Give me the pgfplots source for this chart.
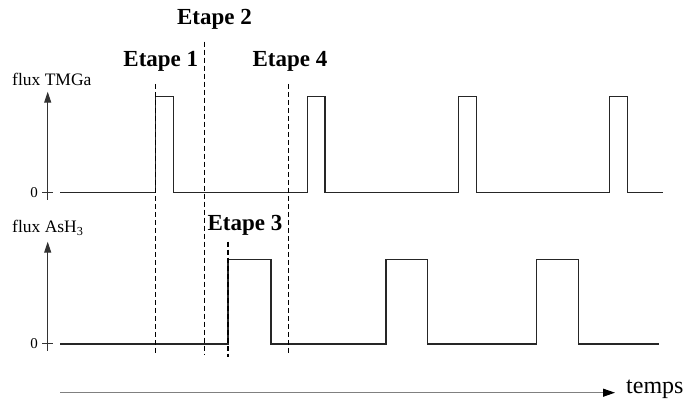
\documentclass[border=0pt]{standalone}
\usepackage{pgfplots}
\pgfplotsset{compat=1.18}
\usepackage{fontspec}
\setmainfont{Liberation Serif}
\usetikzlibrary{arrows.meta}

\newcommand{\lbl}{\fontsize{23bp}{25bp}\selectfont\bfseries}
\newcommand{\ylbl}{\fontsize{17.5bp}{19bp}\selectfont}

\begin{document}
\begin{tikzpicture}
\begin{axis}[
  width=687bp, height=403bp, scale only axis,
  xmin=0, xmax=687, ymin=0, ymax=403,
  hide axis, clip=false,
  every axis plot/.append style={no markers, line width=1.5bp, black!85},
]
\path (axis cs:0,0) rectangle (axis cs:687,403);

% flux TMGa
\addplot[const plot] coordinates {
  (60,210.5) (155.7,306.3) (173.7,210.5) (307.3,306.3) (325,210.5)
  (458.3,306.3) (476.3,210.5) (609.7,306.3) (627.7,210.5) (663,210.5)};
% flux AsH3
\addplot[const plot] coordinates {
  (60,59) (228,143.3) (271,59) (386,143.3) (427.7,59)
  (536.7,143.3) (578.7,59) (659,59)};

% step markers
\addplot[line width=1.4bp, black, dash pattern=on 5bp off 3bp] coordinates {(155.7,319) (155.7,49)};
\addplot[line width=1.4bp, black, dash pattern=on 5bp off 3bp] coordinates {(204.3,361.3) (204.3,48)};
\addplot[line width=1.4bp, black, dash pattern=on 5bp off 3bp] coordinates {(288.7,319) (288.7,49)};
\addplot[line width=1.4bp, black, dash pattern=on 5bp off 3bp] coordinates {(228,161.3) (228,46.3)};

% axes
\draw[line width=1bp, black!80, -{Stealth[length=11bp,width=7bp,inset=0pt]}] (axis cs:47.7,203) -- (axis cs:47.7,311.3);
\draw[line width=1bp, black!80] (axis cs:42,210.5) -- (axis cs:53,210.5);
\draw[line width=1bp, black!80, -{Stealth[length=11bp,width=7bp,inset=0pt]}] (axis cs:47.7,52.3) -- (axis cs:47.7,161.3);
\draw[line width=1bp, black!80] (axis cs:42,59) -- (axis cs:53,59);
\draw[line width=1.2bp, black!50, -{Stealth[length=12bp,width=8bp,inset=0pt,black]}] (axis cs:60,10.3) -- (axis cs:615,10.3);

% text
\node[anchor=west, inner sep=0] at (axis cs:12,324) {\ylbl flux TMGa};
\node[anchor=west, inner sep=0] at (axis cs:12,175) {\ylbl flux AsH\textsubscript{3}};
\node[anchor=east, inner sep=0] at (axis cs:38,210.5) {\fontsize{15bp}{16bp}\selectfont 0};
\node[anchor=east, inner sep=0] at (axis cs:38,59) {\fontsize{15bp}{16bp}\selectfont 0};
\node at (axis cs:214.5,384) {\lbl Etape 2};
\node at (axis cs:160.8,341.3) {\lbl Etape 1};
\node at (axis cs:290,341.3) {\lbl Etape 4};
\node at (axis cs:245,178) {\lbl Etape 3};
\node[anchor=west, inner sep=0] at (axis cs:626,14) {\fontsize{24bp}{26bp}\selectfont temps};
\end{axis}
\end{tikzpicture}
\end{document}
